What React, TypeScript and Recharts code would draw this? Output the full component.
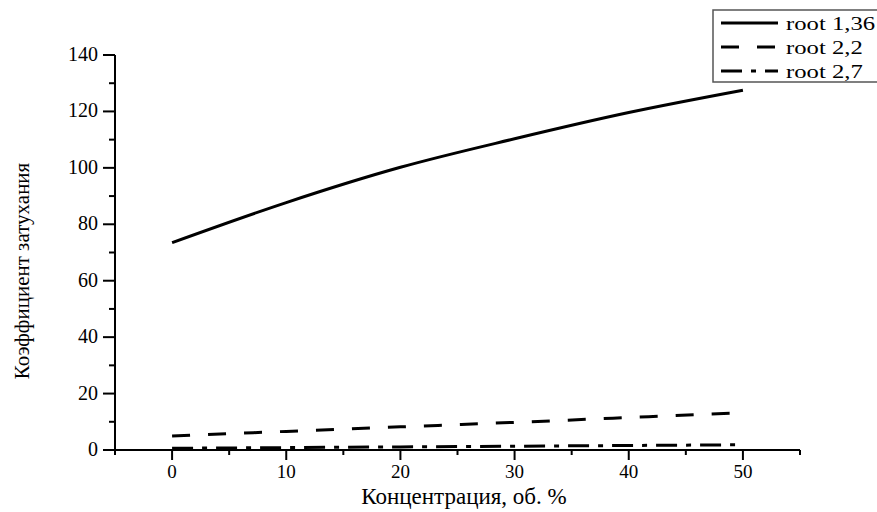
import { LineChart, Line, XAxis, YAxis, Label } from 'recharts';

// концентрация, об. %
const concentration = [0, 10, 20, 30, 40, 50];
// коэффициент затухания по каждому корню
const root136 = [73.5, 87.7, 100.2, 110.3, 119.6, 127.5];
const root22 = [5.0, 6.6, 8.2, 9.8, 11.5, 13.2];
const root27 = [0.6, 0.85, 1.1, 1.35, 1.6, 1.85];

const seriesNames = ['root 1,36', 'root 2,2', 'root 2,7'];
const seriesKeys = ['r136', 'r22', 'r27'];
const seriesDash = ['', '18 18', '21 9 5 9'];

const xTicks = [-5, 0, 5, 10, 15, 20, 25, 30, 35, 40, 45, 50, 55];
const yTicks = [0, 10, 20, 30, 40, 50, 60, 70, 80, 90, 100, 110, 120, 130, 140];

const data = concentration.map((c, i) => ({
    c,
    r136: root136[i],
    r22: root22[i],
    r27: root27[i],
}));

const FONT = 'Liberation Serif';
// принудительно задаём шрифт с засечками для всех подписей в svg
const fontCss = `svg text, svg tspan { font-family: 'Liberation Serif', 'Times New Roman', serif !important; }`;

function XTick(props: any) {
    const { x, y, payload } = props;
    const major = payload.value % 10 === 0;
    return (
        <g>
            <line x1={x} y1={y} x2={x} y2={y + (major ? 10 : 5)} stroke="#000" strokeWidth={2} />
            {major && (
                <text x={x} y={y + 28} textAnchor="middle" fontSize={19} fontFamily={FONT} fill="#000">
                    {payload.value}
                </text>
            )}
        </g>
    );
}

function YTick(props: any) {
    const { x, y, payload } = props;
    const major = payload.value % 20 === 0;
    return (
        <g>
            <line x1={x} y1={y} x2={x - (major ? 12 : 6)} y2={y} stroke="#000" strokeWidth={2} />
            {major && (
                <text x={x - 17} y={y + 6} textAnchor="end" fontSize={20} fontFamily={FONT} fill="#000">
                    {payload.value}
                </text>
            )}
        </g>
    );
}

function ChartLegend() {
    return (
        <svg width={170} height={76} style={{ position: 'absolute', left: 712, top: 9 }}>
            <rect x={1} y={1} width={180} height={72} fill="#fff" stroke="#555" strokeWidth={1.5} />
            {seriesNames.map((name, i) => (
                <g key={name}>
                    <line x1={9} y1={14 + i * 24} x2={66} y2={14 + i * 24} stroke="#000" strokeWidth={3}
                        strokeDasharray={seriesDash[i] || undefined} />
                    <text transform={`translate(74 ${21 + i * 24}) scale(1.3 1)`} fontSize={19}
                        fontFamily={FONT} fill="#000">{name}</text>
                </g>
            ))}
        </svg>
    );
}

function App() {
    return (
        <div style={{ position: 'absolute', left: 0, top: 0, width: 877, height: 512, overflow: 'hidden', background: '#fff', fontFamily: FONT }}>
            <style>{fontCss}</style>
            <LineChart width={877} height={512} data={data} margin={{ top: 55, right: 77, bottom: 0, left: 0 }}>
                <XAxis dataKey="c" type="number" domain={[-5, 55]} ticks={xTicks} interval={0}
                    height={62} tickSize={0} tickMargin={0} tickLine={false} tick={<XTick />}
                    axisLine={{ stroke: '#000', strokeWidth: 2 }} allowDataOverflow>
                    <Label content={() => (
                        <text x={464} y={504} textAnchor="middle" fontSize={23} fontFamily={FONT} fill="#000">
                            Концентрация, об. %
                        </text>
                    )} />
                </XAxis>
                <YAxis type="number" domain={[0, 140]} ticks={yTicks} interval={0}
                    width={115} tickSize={0} tickMargin={0} tickLine={false} tick={<YTick />}
                    axisLine={{ stroke: '#000', strokeWidth: 2 }} allowDataOverflow>
                    <Label content={() => (
                        <text x={29} y={271} transform="rotate(-90 29 271)" textAnchor="middle"
                            fontSize={21} fontFamily={FONT} fill="#000">
                            Коэффициент затухания
                        </text>
                    )} />
                </YAxis>
                {seriesKeys.map((k, i) => (
                    <Line key={k} dataKey={k} name={seriesNames[i]} type="monotone" stroke="#000" strokeWidth={3}
                        strokeDasharray={seriesDash[i] || undefined} dot={false} activeDot={false}
                        isAnimationActive={false} />
                ))}
            </LineChart>
            <ChartLegend />
        </div>
    );
}

export default App;
